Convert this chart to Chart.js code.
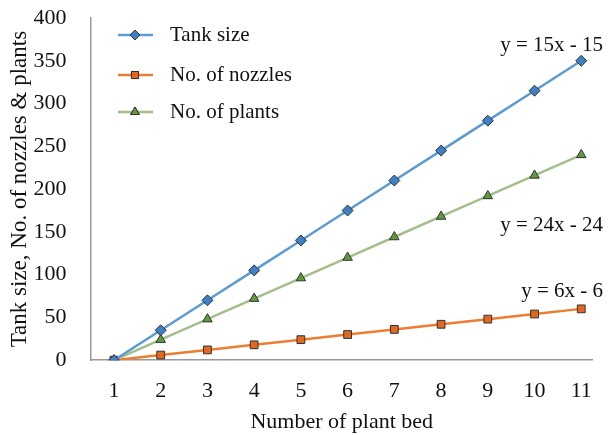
<!DOCTYPE html>
<html>
<head>
<meta charset="utf-8">
<script src="https://cdn.jsdelivr.net/npm/chart.js@4"></script>
<style>
  html, body { margin: 0; padding: 0; background: #fff; }
  #wrap { width: 610px; height: 435px; }
</style>
</head>
<body>
<div id="wrap"><canvas id="chart"></canvas></div>
<script>
const beds = [1, 2, 3, 4, 5, 6, 7, 8, 9, 10, 11];
const tankSize = [0, 35, 70, 105, 140, 175, 210, 245, 280, 315, 350];
const nozzles = [0, 6, 12, 18, 24, 30, 36, 42, 48, 54, 60];
const plants = [0, 24, 48, 72, 96, 120, 144, 168, 192, 216, 240];
const seriesNames = ['Tank size', 'No. of nozzles', 'No. of plants'];
const equations = ['y = 15x - 15', 'y = 24x - 24', 'y = 6x - 6'];

const FONT = '"Liberation Serif", "Times New Roman", serif';
const BLUE = '#5b9bd5', BLUE_PT = '#3f7fc4';
const ORANGE = '#ed7d31', ORANGE_PT = '#e0691f';
const GREEN = '#a3bf8a', GREEN_PT = '#5f9a3c';

function pts(arr) {
    return beds.map((b, i) => ({ x: b, y: arr[i] }));
}

// legend + equation labels drawn inside the plot
const extras = {
    id: 'extras',
    afterDraw(chart) {
        const c = chart.ctx;
        c.save();
        c.font = '21px ' + FONT;
        c.textBaseline = 'middle';
        const items = [
            { y: 35, color: BLUE, fill: BLUE_PT, shape: 'rectRot' },
            { y: 75, color: ORANGE, fill: ORANGE_PT, shape: 'rect' },
            { y: 112, color: GREEN, fill: GREEN_PT, shape: 'triangle' }
        ];
        items.forEach((it, i) => {
            c.strokeStyle = it.color;
            c.lineWidth = 2.5;
            c.beginPath();
            c.moveTo(118, it.y);
            c.lineTo(153, it.y);
            c.stroke();
            c.fillStyle = it.fill;
            c.strokeStyle = '#333';
            c.lineWidth = 1;
            Chart.helpers.drawPoint(c, { pointStyle: it.shape, radius: 5, rotation: 0, borderWidth: 1 }, 135, it.y);
            c.fill();
            c.stroke();
            c.fillStyle = '#111';
            c.textAlign = 'left';
            c.fillText(seriesNames[i], 170, it.y);
        });
        c.textAlign = 'right';
        c.fillText(equations[0], 603, 45);
        c.fillText(equations[1], 603, 225);
        c.fillText(equations[2], 603, 291);
        c.restore();
    }
};

function ds(label, arr, line, fill, shape) {
    return {
        label: label,
        data: pts(arr),
        borderColor: line,
        backgroundColor: fill,
        pointBackgroundColor: fill,
        pointBorderColor: '#333',
        pointBorderWidth: 1,
        pointStyle: shape,
        pointRadius: 5.5,
        borderWidth: 2.5,
        tension: 0
    };
}

new Chart(document.getElementById('chart'), {
    type: 'line',
    data: {
        datasets: [
            ds(seriesNames[0], tankSize, BLUE, BLUE_PT, 'rectRot'),
            ds(seriesNames[2], plants, GREEN, GREEN_PT, 'triangle'),
            ds(seriesNames[1], nozzles, ORANGE, ORANGE_PT, 'rect')
        ]
    },
    plugins: [extras],
    options: {
        responsive: true,
        maintainAspectRatio: false,
        animation: false,
        layout: { padding: { top: 0, right: 0, bottom: 0, left: 4 } },
        plugins: {
            legend: { display: false },
            tooltip: { enabled: false }
        },
        scales: {
            x: {
                type: 'linear',
                min: 0.5,
                max: 11.25,
                afterBuildTicks(axis) {
                    axis.ticks = beds.map(v => ({ value: v }));
                },
                afterFit(scale) {
                    scale.height -= 14;
                },
                grid: { display: false, drawTicks: false },
                border: { color: '#999', width: 1.5 },
                ticks: { color: '#111', font: { family: FONT, size: 22 }, padding: 18, maxRotation: 0 },
                title: { display: true, text: 'Number of plant bed', color: '#111', font: { family: FONT, size: 22 }, padding: { top: 0, bottom: 0 } }
            },
            y: {
                min: 0,
                max: 400,
                afterFit(scale) {
                    scale.paddingTop = 18;
                    scale.width -= 24;
                },
                ticks: { stepSize: 50, color: '#111', font: { family: FONT, size: 22 }, padding: 24 },
                grid: { display: false, drawTicks: false },
                border: { color: '#999', width: 1.5 },
                title: { display: true, text: 'Tank size, No. of nozzles & plants', color: '#111', font: { family: FONT, size: 23 }, padding: { top: 2, bottom: 0 } }
            }
        }
    }
});
</script>
</body>
</html>
